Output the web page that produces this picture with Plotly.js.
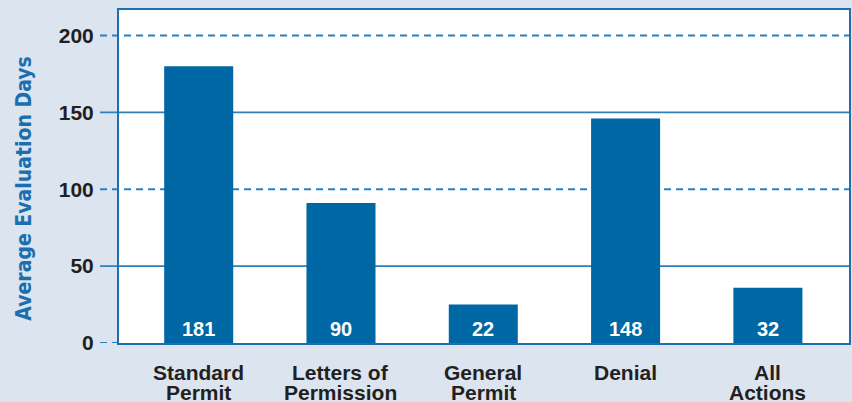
<!DOCTYPE html>
<html>
<head>
<meta charset="utf-8">
<script src="https://cdn.plot.ly/plotly-3.0.1.min.js"></script>
<style>html,body{margin:0;padding:0;background:#dbe4ef;}#chart{width:852px;height:402px;}</style>
</head>
<body>
<div id="chart"></div>
<script>
// ---- data ----
const categories = ["Standard Permit", "Letters of Permission", "General Permit", "Denial", "All Actions"];
const labelLine1 = ["Standard", "Letters of", "General", "Denial", "All"];
const labelLine2 = ["Permit", "Permission", "Permit", "", "Actions"];
const barHeights = [180, 91, 25, 146, 36];
const barLabels = ["181", "90", "22", "148", "32"];
const yTickValues = [0, 50, 100, 150, 200];
const yTitle = "Average Evaluation Days";

// ---- styles ----
const barColor = "#0067a5";
const gridColor = "#2f7fbb";
const textDark = "#231f20";
const titleBlue = "#1b6fae";
const baseFont = "Liberation Sans, Arial, sans-serif";

const shapes = yTickValues.map(v => ({
  type: "line", xref: "paper", yref: "y",
  x0: -0.026, x1: (v === 0 ? 0 : 1), y0: v, y1: v, layer: "below",
  line: { color: gridColor, width: (v % 100 === 0) ? 2 : 1.6, dash: (v % 100 === 0) ? "7px,5px" : "solid" }
}));

const annotations = [];
categories.forEach((c, i) => {
  annotations.push({
    x: c, xref: "x", y: 0, yref: "y", yanchor: "middle", yshift: 14,
    text: "<b>" + barLabels[i] + "</b>", showarrow: false,
    font: { family: baseFont, size: 20, color: "#ffffff" }
  });
  annotations.push({
    x: c, xref: "x", y: 0, yref: "paper", yanchor: "middle", yshift: -29.5,
    text: "<b>" + labelLine1[i] + "</b>", showarrow: false,
    font: { family: baseFont, size: 21, color: textDark }
  });
  if (labelLine2[i]) annotations.push({
    x: c, xref: "x", y: 0, yref: "paper", yanchor: "middle", yshift: -49.5,
    text: "<b>" + labelLine2[i] + "</b>", showarrow: false,
    font: { family: baseFont, size: 21, color: textDark }
  });
});
annotations.push({
  x: -0.1288, xref: "paper", y: 0.464, yref: "paper", xanchor: "center", yanchor: "middle",
  textangle: -90, text: "<b>" + yTitle + "</b>", showarrow: false,
  font: { family: "DejaVu Sans", size: 21, color: titleBlue }
});

const trace = {
  type: "bar", x: categories, y: barHeights,
  marker: { color: barColor, line: { width: 0 } },
  width: 0.485, hoverinfo: "none"
};

const layout = {
  width: 852, height: 402,
  margin: { l: 119, r: 3, t: 10, b: 59 },
  paper_bgcolor: "#dbe4ef",
  plot_bgcolor: "#ffffff",
  showlegend: false,
  xaxis: {
    type: "category", range: [-0.56, 4.57], showticklabels: false, ticks: "",
    showgrid: false, zeroline: false, showline: true, mirror: true,
    linecolor: "#1f6fad", linewidth: 2, fixedrange: true
  },
  yaxis: {
    range: [0, 216.6], tickvals: yTickValues, ticks: "", showgrid: false, zeroline: false,
    showline: true, mirror: true, linecolor: "#1f6fad", linewidth: 2,
    tickfont: { family: baseFont, size: 21, color: textDark, weight: "bold" },
    ticklabelstandoff: 19, fixedrange: true
  },
  shapes: shapes,
  annotations: annotations
};

Plotly.newPlot("chart", [trace], layout, { displayModeBar: false, staticPlot: true }).then(gd => {
  gd.querySelectorAll(".annotation-text").forEach(t => {
    if (t.textContent === yTitle) t.style.fontStretch = "condensed";
  });
});
</script>
</body>
</html>
